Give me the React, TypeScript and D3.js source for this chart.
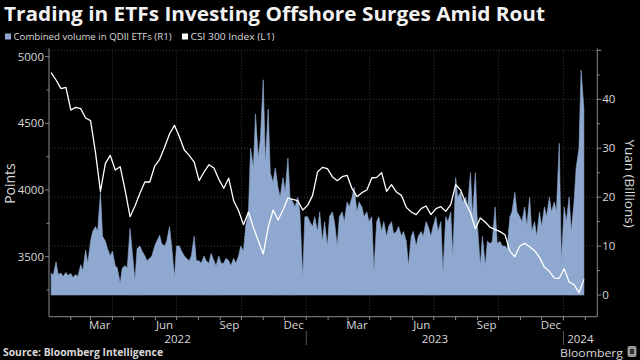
import React from 'react';
import * as d3 from 'd3';

// CSI 300 index (L1), weekly closes from 2022-01-04
const csiStart = new Date(2022, 0, 4);
const csiValues = [
  4880, 4825, 4760, 4770, 4600, 4620, 4610, 4540, 4520, 4280,
  3990, 4200, 4260, 4150, 4175, 4000, 3800, 3880, 3975, 4060,
  4060, 4180, 4230, 4320, 4420, 4485, 4400, 4300, 4260, 4210,
  4070, 4135, 4190, 4165, 4080, 4013, 4088, 3920, 3845, 3740,
  3835, 3720, 3620, 3520, 3720, 3850, 3775, 3850, 3940, 3930,
  3920, 3850, 3885, 3960, 4135, 4170, 4160, 4100, 4070, 4100,
  4110, 4010, 3950, 3980, 4000, 4090, 4095, 4130, 3990, 4040,
  3985, 3960, 3870, 3835, 3815, 3860, 3880, 3815, 3860, 3875,
  3840, 3890, 4040, 4000, 3905, 3830, 3710, 3790, 3760, 3720,
  3705, 3688, 3665, 3540, 3500, 3580, 3600, 3575, 3545, 3495,
  3420, 3390, 3340, 3338, 3410, 3310, 3290, 3230, 3330,
];

// Combined QDII ETF volume (R1, yuan bn), sampled Tue / Fri
const volValues = [
  4.5, 4.0, 6.8, 4.2, 4.5, 3.8, 4.6, 4.0, 4.4, 3.6,
  4.2, 3.8, 6.2, 5.0, 9.2, 6.5, 11, 13, 14, 13,
  21, 12, 11, 9.5, 8, 9, 6, 5.5, 2.4, 5.5,
  6, 5.5, 13.6, 9, 3, 9.5, 10, 9, 8, 7,
  7.5, 8, 10, 11, 12.2, 10.5, 10, 11, 14, 10,
  3.7, 10, 10, 9, 8, 7.5, 7, 8, 12, 7,
  7, 6.5, 8, 7, 6.5, 8.5, 7, 6, 8, 6.5,
  6.5, 7.5, 7, 6, 7.5, 6.5, 8, 10, 9, 14,
  17, 30, 26, 37, 28, 32, 44, 27, 38, 25,
  23, 26, 22, 20, 24, 21, 28, 20, 19, 18,
  20, 17, 3.6, 16, 16, 15, 14, 16, 13, 17,
  11, 15, 10, 16, 17, 15, 10, 16, 17, 15,
  19, 18, 20, 22, 17, 19, 18, 16, 17, 15,
  16, 5, 15, 16, 13, 15, 12, 14, 15, 12.5,
  13, 14, 12, 13, 11, 6, 12, 13, 10, 12,
  13, 12, 15, 14, 12, 14, 16, 13, 15, 4.6,
  16, 15, 17, 8, 24, 20, 21, 19, 20, 18,
  25, 16, 25, 14, 6, 12, 6, 11, 10.5, 11,
  18, 10.5, 11, 10, 10, 9.5, 16, 17, 21, 17,
  16, 15, 18, 14, 20, 13, 15, 12, 17, 14,
  18, 16, 20, 17, 19, 17, 31, 7, 18, 15,
  20, 13, 19, 26, 30, 46, 38,
];

const leftTicks = [3500, 4000, 4500, 5000];
const rightTicks = [0, 10, 20, 30, 40];
const monthLabels = ['Mar', 'Jun', 'Sep', 'Dec'];
const yearLabels = ['2022', '2023', '2024'];

const BG = '#000000';
const AREA = '#8ea8cf';
const TEXT = '#d9d9d9';
const AXIS = '#8c8c8c';
const GRID = '#3a3a3a';
const FONT = '"Open Sans", "Noto Sans", sans-serif';

const addDays = (d: Date, n: number) => d3.timeDay.offset(d, n);

const csi = csiValues.map((v, i) => ({ date: addDays(csiStart, i * 7), v }));
const vol = volValues.map((v, i) => ({
  date: addDays(csiStart, Math.floor(i / 2) * 7 + (i % 2) * 3),
  v,
}));

const W = 640;
const H = 360;
const left = 49;
const right = 597.3;
const top = 50.4;
const bottom = 316.7;

const App: React.FC = () => {
  const x = d3.scaleTime()
    .domain([new Date(2022, 0, 1), new Date(2024, 1, 18)])
    .range([left, right]);
  const yL = d3.scaleLinear().domain([3050, 5047]).range([bottom, top]);
  const yR = d3.scaleLinear().domain([-4.43, 50]).range([bottom, top]);

  const area = d3.area<{ date: Date; v: number }>()
    .x(d => x(d.date))
    .y0(yR(0))
    .y1(d => yR(d.v));
  const line = d3.line<{ date: Date; v: number }>()
    .x(d => x(d.date))
    .y(d => yL(d.v));

  const months = d3.timeMonth.range(new Date(2022, 1, 1), new Date(2024, 1, 18));
  const quarters = months.filter(m => m.getMonth() % 3 === 0);
  const labelMonths = months.filter(m => m.getMonth() % 3 === 2);
  const gridR = d3.range(10, 51, 10);
  const minorR = d3.range(5, 50, 10);
  const minorL = [3250, 3750, 4250, 4750];
  const years = [2022, 2023, 2024].map(y => {
    const a = Math.max(left, x(new Date(y, 0, 1)));
    const b = Math.min(right, x(new Date(y + 1, 0, 1)));
    return (a + b) / 2;
  });

  return (
    <svg
      width={W}
      height={H}
      style={{ display: 'block', position: 'fixed', top: 0, left: 0, background: BG }}
      fontFamily={FONT}
    >
      <rect width={W} height={H} fill={BG} />
      <text x={4} y={21} fill="#f2f2f2" fontSize={20} fontWeight={700} textLength={541} lengthAdjust="spacingAndGlyphs">
        Trading in ETFs Investing Offshore Surges Amid Rout
      </text>

      {/* legend */}
      <rect x={5} y={33.5} width={6} height={6} fill={AREA} />
      <text x={13.5} y={40} fill={TEXT} fontSize={9.5} textLength={158} lengthAdjust="spacingAndGlyphs">
        Combined volume in QDII ETFs (R1)
      </text>
      <rect x={182} y={33.5} width={6} height={6} fill="#ffffff" />
      <text x={190.5} y={40} fill={TEXT} fontSize={9.5} textLength={84} lengthAdjust="spacingAndGlyphs">
        CSI 300 Index (L1)
      </text>

      {/* grid */}
      {gridR.map(v => (
        <line key={'gr' + v} x1={left} x2={right} y1={yR(v)} y2={yR(v)} stroke={GRID} strokeWidth={1} strokeDasharray="1,2" />
      ))}
      {quarters.map(m => (
        <line key={'gq' + m.getTime()} x1={x(m)} x2={x(m)} y1={top} y2={bottom} stroke={GRID} strokeWidth={1} strokeDasharray="1,2" />
      ))}

      <path d={area(vol) || ''} fill={AREA} stroke={AREA} strokeWidth={0.6} strokeLinejoin="miter" />
      <path d={line(csi) || ''} fill="none" stroke="#ffffff" strokeWidth={1.3} strokeLinejoin="round" />

      {/* axes */}
      <line x1={left} x2={left} y1={top - 2} y2={bottom} stroke={AXIS} />
      <line x1={right} x2={right} y1={top - 2} y2={bottom} stroke={AXIS} />
      <line x1={left} x2={right} y1={bottom} y2={bottom} stroke={AXIS} />

      {leftTicks.map(v => (
        <g key={'l' + v}>
          <line x1={left - 4} x2={left} y1={yL(v)} y2={yL(v)} stroke={AXIS} />
          <text x={left - 5} y={yL(v) + 4} fill={TEXT} fontSize={11.5} textAnchor="end">{v}</text>
        </g>
      ))}
      {minorL.map(v => (
        <line key={'lm' + v} x1={left - 2.5} x2={left} y1={yL(v)} y2={yL(v)} stroke={AXIS} />
      ))}
      {rightTicks.map(v => (
        <g key={'r' + v}>
          <line x1={right} x2={right + 4} y1={yR(v)} y2={yR(v)} stroke={AXIS} />
          <text x={right + 5} y={yR(v) + 4} fill={TEXT} fontSize={11.5}>{v}</text>
        </g>
      ))}
      {minorR.map(v => (
        <line key={'rm' + v} x1={right} x2={right + 2.5} y1={yR(v)} y2={yR(v)} stroke={AXIS} />
      ))}
      <line x1={right} x2={right + 4} y1={yR(50)} y2={yR(50)} stroke={AXIS} />

      {months.map(m => (
        <line key={'mt' + m.getTime()} x1={x(m)} x2={x(m)} y1={bottom} y2={bottom + 3.5} stroke={AXIS} />
      ))}
      {labelMonths.map(m => (
        <text key={'ml' + m.getTime()} x={x(d3.timeDay.offset(m, 13))} y={328.5} fill={TEXT} fontSize={11.5} textAnchor="middle">
          {monthLabels[Math.floor(m.getMonth() / 3)]}
        </text>
      ))}
      {yearLabels.map((t, i) => (
        <text key={'y' + t} x={years[i]} y={342.5} fill={TEXT} fontSize={11.5} textAnchor="middle">{t}</text>
      ))}
      {[2023, 2024].map(y => (
        <line key={'ys' + y} x1={x(new Date(y, 0, 1))} x2={x(new Date(y, 0, 1))} y1={331} y2={345} stroke="#555" />
      ))}

      <text
        transform={`translate(15,${(top + bottom) / 2}) rotate(-90)`}
        fill={TEXT} fontSize={14} textAnchor="middle"
      >Points</text>
      <text
        transform={`translate(625,${(top + bottom) / 2}) rotate(90)`}
        fill={TEXT} fontSize={13.5} textAnchor="middle"
      >Yuan (Billions)</text>

      <text x={3} y={356} fill={TEXT} fontSize={10} fontWeight={700} textLength={160} lengthAdjust="spacingAndGlyphs">
        Source: Bloomberg Intelligence
      </text>
      <text x={623} y={357} fill={TEXT} fontSize={11} textAnchor="end" textLength={63} lengthAdjust="spacingAndGlyphs">
        Bloomberg
      </text>
      <rect x={627.5} y={346} width={9} height={11} rx={2} fill="#9a9a9a" />
      <rect x={630} y={349} width={4} height={5} fill="#333" />
    </svg>
  );
};

export default App;
